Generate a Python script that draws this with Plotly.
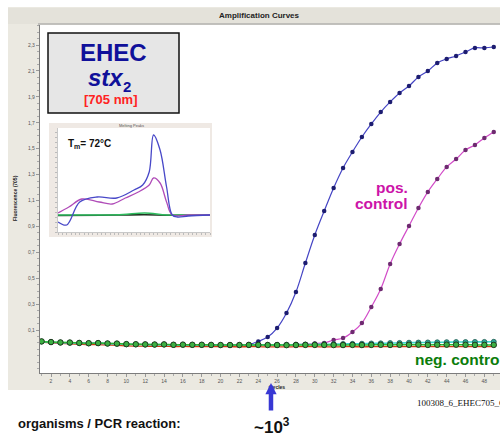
import plotly.graph_objects as go

# ---- amplification data (cycles 1..49, fluorescence 705 nm) ----
cycles = list(range(1, 50))

sample_stx2 = [0.012, 0.006, 0.003, 0.002, 0.000, -0.003, -0.001, -0.005, -0.006, -0.010,
               -0.012, -0.012, -0.013, -0.012, -0.015, -0.014, -0.016, -0.015, -0.016, -0.017,
               -0.016, -0.017, -0.012, 0.012, 0.046, 0.115, 0.231, 0.393, 0.617, 0.834,
               1.019, 1.197, 1.351, 1.475, 1.590, 1.691, 1.783, 1.861, 1.930, 1.984,
               2.054, 2.100, 2.162, 2.193, 2.216, 2.247, 2.278, 2.278, 2.285]

pos_control = [0.010, 0.005, 0.002, 0.000, -0.002, -0.004, -0.003, -0.006, -0.007, -0.010,
               -0.011, -0.012, -0.013, -0.013, -0.015, -0.014, -0.015, -0.016, -0.016, -0.017,
               -0.017, -0.017, -0.016, -0.016, -0.015, -0.015, -0.014, -0.012, -0.010, -0.005,
               0.000, 0.023, 0.038, 0.085, 0.154, 0.278, 0.417, 0.610, 0.764, 0.903,
               1.042, 1.166, 1.266, 1.359, 1.420, 1.490, 1.529, 1.583, 1.629]

neg_control = [0.012, 0.007, 0.004, 0.003, 0.000, -0.002, -0.001, -0.004, -0.005, -0.009,
               -0.010, -0.011, -0.012, -0.011, -0.014, -0.013, -0.014, -0.014, -0.015, -0.016,
               -0.016, -0.016, -0.015, -0.015, -0.016, -0.016, -0.017, -0.016, -0.015, -0.015,
               -0.015, -0.016, -0.016, -0.015, -0.016, -0.015, -0.014, -0.015, -0.014, -0.014,
               -0.013, -0.015, -0.014, -0.013, -0.013, -0.014, -0.015, -0.015, -0.015]

neg_control_2 = [0.011, 0.006, 0.003, 0.002, -0.001, -0.003, -0.002, -0.005, -0.006, -0.010,
                 -0.011, -0.012, -0.013, -0.012, -0.015, -0.014, -0.015, -0.015, -0.016, -0.016,
                 -0.016, -0.016, -0.015, -0.015, -0.015, -0.015, -0.014, -0.013, -0.012, -0.011,
                 -0.010, -0.009, -0.008, -0.007, -0.006, -0.004, -0.003, -0.001, 0.000, 0.002,
                 0.003, 0.004, 0.005, 0.006, 0.007, 0.007, 0.008, 0.008, 0.009]

blank = [0.006, 0.000, -0.004, -0.006, -0.009, -0.012, -0.013, -0.016, -0.018, -0.022,
         -0.024, -0.025, -0.026, -0.026, -0.028, -0.027, -0.028, -0.028, -0.029, -0.029,
         -0.029, -0.030, -0.029, -0.029, -0.030, -0.030, -0.030, -0.029, -0.029, -0.029,
         -0.030, -0.030, -0.029, -0.029, -0.030, -0.029, -0.029, -0.029, -0.028, -0.029,
         -0.028, -0.029, -0.028, -0.028, -0.028, -0.029, -0.029, -0.029, -0.029]

y_tick_values = [0.1, 0.3, 0.5, 0.7, 0.9, 1.1, 1.3, 1.5, 1.7, 1.9, 2.1, 2.3]
y_tick_labels = ["0,1", "0,3", "0,5", "0,7", "0,9", "1,1", "1,3", "1,5", "1,7", "1,9", "2,1", "2,3"]
x_tick_values = list(range(2, 50, 2))

# ---- melting peaks inset (temperature in °C, -dF/dT) ----
melt_temp_stx2 = [50, 52, 55, 59, 63.5, 67.5, 69.5, 71, 72, 73.5, 75, 76.3, 77.5, 80, 85]
melt_stx2 = [0.10, 0.07, 0.30, 0.35, 0.34, 0.42, 0.47, 0.60, 0.97, 0.82, 0.45, 0.17, 0.15, 0.16, 0.17]
melt_temp_pos = [50, 52.5, 55.5, 59.5, 62.5, 65.5, 68.5, 71, 72, 73.5, 75, 76.3, 80, 85]
melt_pos = [0.19, 0.25, 0.33, 0.30, 0.28, 0.34, 0.40, 0.47, 0.54, 0.49, 0.30, 0.17, 0.17, 0.17]
melt_temp_neg = [50, 60, 65, 70, 75, 80, 85]
melt_neg = [0.17, 0.17, 0.175, 0.19, 0.17, 0.17, 0.17]
melt_blank = [0.165, 0.168, 0.17, 0.172, 0.168, 0.167, 0.168]

FONT = "Liberation Sans, Arial, sans-serif"
BEIGE = "#ebe9e1"

# plot area: x 40..500 px, y 25..373 px
L, R, T, B = 40, 0, 25, 67
W, H = 500, 440
PW, PH = W - L - R, H - T - B


def px(x):
    return (x - L) / PW


def py(y):
    return (H - B - y) / PH


fig = go.Figure()

fig.add_trace(go.Scatter(x=cycles, y=blank, mode="lines",
                         line=dict(color="#d03a10", width=1.3, shape="spline")))
fig.add_trace(go.Scatter(x=cycles, y=sample_stx2, mode="lines+markers",
                         line=dict(color="#4444c4", width=1.2, shape="spline"),
                         marker=dict(color="#1c1c70", size=4.5)))
fig.add_trace(go.Scatter(x=cycles, y=pos_control, mode="lines+markers",
                         line=dict(color="#d24cc8", width=1.2, shape="spline"),
                         marker=dict(color="#6e2a70", size=4.5)))
fig.add_trace(go.Scatter(x=cycles, y=neg_control_2, mode="lines+markers",
                         line=dict(color="#40d8cc", width=1.6, shape="spline"),
                         marker=dict(color="#2fa89a", size=5,
                                     line=dict(color="#1d5a50", width=0.8))))
fig.add_trace(go.Scatter(x=cycles, y=neg_control, mode="lines+markers",
                         line=dict(color="#2dbb2d", width=1.5, shape="spline"),
                         marker=dict(color="#3cb043", size=5.5,
                                     line=dict(color="#1f3a1f", width=1))))

# inset traces
fig.add_trace(go.Scatter(x=melt_temp_neg, y=melt_blank, mode="lines", xaxis="x2", yaxis="y2",
                         line=dict(color="#203020", width=1.6, shape="spline")))
fig.add_trace(go.Scatter(x=melt_temp_neg, y=melt_neg, mode="lines", xaxis="x2", yaxis="y2",
                         line=dict(color="#2dbb5d", width=1.4, shape="spline")))
fig.add_trace(go.Scatter(x=melt_temp_pos, y=melt_pos, mode="lines", xaxis="x2", yaxis="y2",
                         line=dict(color="#b04cb8", width=1.3, shape="spline")))
fig.add_trace(go.Scatter(x=melt_temp_stx2, y=melt_stx2, mode="lines", xaxis="x2", yaxis="y2",
                         line=dict(color="#4848c8", width=1.3, shape="spline")))

shapes = [
    # window panel
    dict(type="rect", xref="paper", yref="paper", x0=px(8), x1=px(500), y0=py(390), y1=py(7),
         fillcolor=BEIGE, line=dict(width=0), layer="below"),
    dict(type="rect", xref="paper", yref="paper", x0=px(8), x1=px(500), y0=py(24), y1=py(8),
         fillcolor="#e4e2da", line=dict(width=0), layer="below"),
    dict(type="line", xref="paper", yref="paper", x0=px(38), x1=px(500), y0=py(24), y1=py(24),
         line=dict(color="#9a9a9a", width=1.2), layer="below"),
    # white plotting region
    dict(type="rect", xref="paper", yref="paper", x0=0, x1=1, y0=0, y1=py(25),
         fillcolor="white", line=dict(width=0), layer="below"),
    # inset frame
    dict(type="rect", xref="paper", yref="paper", x0=px(49), x1=px(212), y0=py(237), y1=py(123),
         fillcolor="#efe9e4", line=dict(width=0), layer="below"),
    dict(type="rect", xref="paper", yref="paper", x0=px(58), x1=px(210), y0=py(232), y1=py(128),
         fillcolor="white", line=dict(width=0), layer="below"),
    # label box
    dict(type="rect", xref="paper", yref="paper", x0=px(48), x1=px(179), y0=py(113), y1=py(33),
         fillcolor="#e6e6e6", line=dict(color="#111111", width=1.5), layer="above"),
]

annotations = [
    dict(text="<b>Amplification Curves</b>", x=px(259), y=py(16), font=dict(size=8, color="#222")),
    dict(text="<b>Fluorescence (705)</b>", x=px(15), y=py(198), textangle=-90,
         font=dict(size=5, color="#222")),
    dict(text="<b>Cycles</b>", x=px(277), y=py(387), font=dict(size=5, color="#222")),
    dict(text="<b>EHEC</b>", x=px(113), y=py(52), font=dict(size=24, color="#10109a")),
    dict(text="<b><i>stx</i></b>", x=px(106), y=py(77), font=dict(size=24, color="#10109a")),
    dict(text="<b>2</b>", x=px(127), y=py(86), font=dict(size=15, color="#10109a")),
    dict(text="<b>[705 nm]</b>", x=px(110), y=py(99.5), font=dict(size=13, color="#ff2222")),
    dict(text="Melting Peaks", x=px(131), y=py(125.5), font=dict(size=4, color="#555")),
    dict(text="<b>T<sub>m</sub>= 72°C</b>", x=px(66), y=py(144), xanchor="left",
         font=dict(size=10, color="#111")),
    dict(text="<b>pos.</b>", x=px(410), y=py(188), xanchor="right", font=dict(size=15.5, color="#cc14a8")),
    dict(text="<b>control</b>", x=px(410), y=py(203), xanchor="right", font=dict(size=15.5, color="#cc14a8")),
    dict(text="<b>neg. control</b>", x=px(413), y=py(359), xanchor="left",
         font=dict(size=15.5, color="#0b7d0b")),
    dict(text="<b>organisms / PCR reaction:</b>", x=px(16), y=py(423), xanchor="left",
         font=dict(size=13, color="#111")),
    dict(text="<b>~10<sup>3</sup></b>", x=px(252), y=py(426), xanchor="left",
         font=dict(size=17, color="#111")),
    dict(text="100308_6_EHEC705_C", x=px(415), y=py(403), xanchor="left",
         font=dict(size=9, color="#111", family="Liberation Serif, Times New Roman, serif")),
    dict(text="", x=25.35, xref="x", y=py(383), ax=0, ay=29, showarrow=True,
         arrowhead=2, arrowsize=0.5, arrowwidth=4.5, arrowcolor="#3838d4", standoff=0),
]
for a in annotations:
    a.setdefault("xref", "paper")
    a.setdefault("yref", "paper")
    a.setdefault("showarrow", False)
    a.setdefault("xanchor", "center")
    a.setdefault("yanchor", "middle")

fig.update_layout(
    width=W, height=H, autosize=False,
    margin=dict(l=L, r=R, t=T, b=B, pad=0),
    paper_bgcolor="white", plot_bgcolor="white",
    showlegend=False,
    separators=",.",
    font=dict(family=FONT),
    shapes=shapes,
    annotations=annotations,
    xaxis=dict(range=[0.832, 49.66], tickvals=x_tick_values, showgrid=False, zeroline=False,
               showline=True, linecolor="#7d7d7d", linewidth=1.2,
               ticks="outside", ticklen=3, tickcolor="#999", tickwidth=1,
               minor=dict(dtick=1, tick0=1, ticks="outside", ticklen=2, tickcolor="#aaa"),
               tickfont=dict(size=5, color="#555"), fixedrange=True),
    yaxis=dict(range=[-0.232, 2.455], tickvals=y_tick_values, ticktext=y_tick_labels,
               showgrid=False, zeroline=False,
               showline=True, linecolor="#7d7d7d", linewidth=1.2,
               ticks="outside", ticklen=3, tickcolor="#999", tickwidth=1,
               minor=dict(dtick=0.05, tick0=0, ticks="outside", ticklen=2, tickcolor="#aaa"),
               tickfont=dict(size=5, color="#555"), fixedrange=True),
    xaxis2=dict(domain=[px(58), px(210)], anchor="y2", range=[50, 85], showgrid=False,
                zeroline=False, showline=True, linecolor="#c8c8c8", linewidth=1,
                ticks="outside", ticklen=2, tickcolor="#bbb", dtick=1, showticklabels=False),
    yaxis2=dict(domain=[py(232), py(128)], anchor="x2", range=[0.0, 1.04], showgrid=False,
                zeroline=False, showline=True, linecolor="#c8c8c8", linewidth=1,
                ticks="outside", ticklen=2, tickcolor="#bbb", dtick=0.05, showticklabels=False),
)

fig.write_html("out.html")
